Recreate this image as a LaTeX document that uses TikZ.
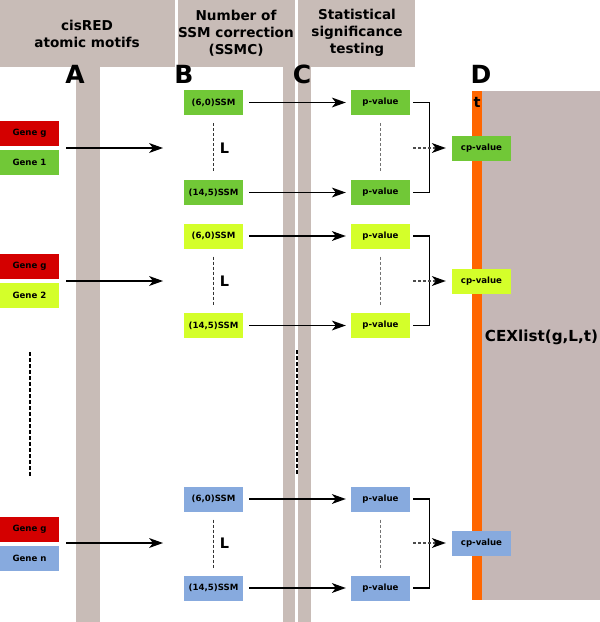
\documentclass[tikz,border=0pt]{standalone}
\usepackage{fontspec}
\setmainfont{DejaVu Sans}
\usetikzlibrary{arrows.meta}
\definecolor{bandgray}{HTML}{C8BCB7}
\definecolor{blockgray}{HTML}{C5B7B6}
\definecolor{orangebar}{HTML}{FF6600}
\definecolor{genered}{HTML}{D40000}
\definecolor{grpgreen}{HTML}{71C837}
\definecolor{grpyellow}{HTML}{D4FF2A}
\definecolor{grpblue}{HTML}{87AADE}
\tikzset{
  box/.style={minimum width=59pt, minimum height=25pt, inner sep=0pt, font=\fontsize{8.6}{10}\selectfont\bfseries},
  head/.style={align=center, font=\fontsize{13.6}{17}\selectfont\bfseries},
  letter/.style={font=\fontsize{25}{28}\selectfont\bfseries, inner sep=0pt},
  tipst/.tip={Stealth[length=14pt,width=10pt,inset=4pt,line width=0pt]},
  arr/.style={line width=1.2pt, arrows={-tipst}},
  darr/.style={line width=1.2pt, draw=black!70, dash pattern=on 3pt off 2pt, arrows={-tipst[black]}},
  brk/.style={line width=1.2pt},
  ldash/.style={line width=1pt, draw=black!80, dash pattern=on 3pt off 2pt},
  pdash/.style={line width=1pt, draw=black!55, dash pattern=on 3pt off 2pt},
  vdash/.style={line width=2pt, dash pattern=on 4pt off 2pt},
  lbl/.style={font=\fontsize{14.5}{16}\selectfont\bfseries, inner sep=0pt}
}
\begin{document}
\begin{tikzpicture}[x=1pt,y=-1pt]
\useasboundingbox (0,0) rectangle (600,622);
% background bands
\fill[bandgray] (0,0) rectangle (175,67);
\fill[bandgray] (76,67) rectangle (100,622);
\fill[bandgray] (178,0) rectangle (295,67);
\fill[bandgray] (283,67) rectangle (295,622);
\fill[bandgray] (298,0) rectangle (415,67);
\fill[bandgray] (298,67) rectangle (311,622);
\fill[blockgray] (482,91) rectangle (600,600);
\fill[orangebar] (472,91) rectangle (482,600);
% headers
\node[head] (hA) at (87,34) {cisRED\\atomic motifs};
\node[head] (hB) at (236,33) {Number of\\SSM correction\\(SSMC)};
\node[head] (hC) at (357,33) {Statistical\\significance\\testing};
\node[letter] (lA) at (75,74) {A};
\node[letter] (lB) at (184,74) {B};
\node[letter] (lC) at (302,74) {C};
\node[letter] (lD) at (481,74) {D};
\node[lbl] (tl) at (477,102) {t};
\node[font=\fontsize{15.2}{18}\selectfont\bfseries, inner sep=0pt] (cex) at (541.5,337) {CEXlist(g,L,t)};
% vertical dashed ellipsis lines
\coordinate (ga) at (30,352); \coordinate (gb) at (30,477);
\draw[vdash] (ga) -- (gb);
\coordinate (sa) at (297,350); \coordinate (sb) at (297,475);
\draw[vdash] (sa) -- (sb);
% groups
\foreach \i/\col/\gname/\ya/\yb/\ymid/\yt/\yu in {1/grpgreen/Gene 1/133.5/162/148/102.5/192.5, 2/grpyellow/Gene 2/266.5/295.5/281/236/325.5, 3/grpblue/Gene n/529/558/543/499/588}{
  \node[box, fill=genered] (gg\i) at (29.5,\ya) {Gene g};
  \node[box, fill=\col] (gn\i) at (29.5,\yb) {\gname};
  \coordinate (as\i) at (66,\ymid);
  \coordinate (ae\i) at (163,\ymid);
  \draw[arr] (as\i) -- (ae\i);
  \node[box, fill=\col] (st\i) at (213.5,\yt) {(6,0)SSM};
  \node[box, fill=\col] (sb\i) at (213.5,\yu) {(14,5)SSM};
  \draw[ldash, shorten <=8pt, shorten >=7pt] (st\i.south) -- (sb\i.north);
  \node[lbl] (L\i) at (224.5,\ymid) {L};
  \node[box, fill=\col] (pt\i) at (380.5,\yt) {p-value};
  \node[box, fill=\col] (pb\i) at (380.5,\yu) {p-value};
  \draw[pdash, shorten <=8pt, shorten >=7pt] (pt\i.south) -- (pb\i.north);
  \draw[arr, shorten <=6pt, shorten >=5pt] (st\i.east) -- (pt\i.west);
  \draw[arr, shorten <=6pt, shorten >=5pt] (sb\i.east) -- (pb\i.west);
  \node[box, fill=\col] (cp\i) at (481.5,\ymid) {cp-value};
  \draw[brk] ([xshift=3pt]pt\i.east) -| ([xshift=19pt]pt\i.east |- pb\i.east) -- ([xshift=3pt]pb\i.east);
  \coordinate (ds\i) at (413,\ymid);
  \draw[darr, shorten >=6pt] (ds\i) -- (cp\i.west);
}
\end{tikzpicture}
\end{document}
